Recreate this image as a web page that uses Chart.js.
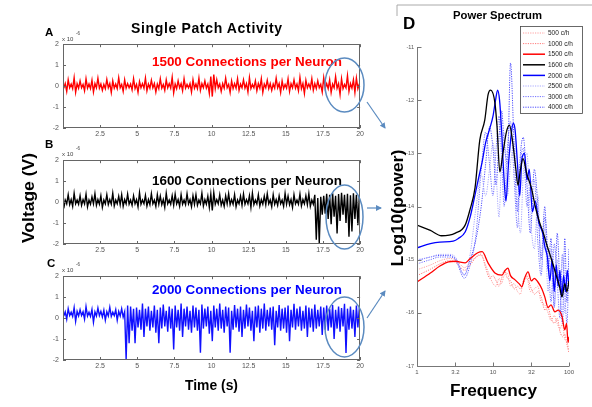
<!DOCTYPE html>
<html>
<head>
<meta charset="utf-8">
<script src="https://cdn.jsdelivr.net/npm/chart.js@4.4.0/dist/chart.umd.min.js"></script>
<style>
  html, body { margin: 0; padding: 0; background: #fff; }
  #fig { position: relative; width: 592px; height: 407px; overflow: hidden; font-family: "Liberation Sans", Arial, sans-serif; }
  #fig canvas { position: absolute; }
  #over { position: absolute; left: 0; top: 0; pointer-events: none; }
</style>
</head>
<body>
<div id="fig">
  <canvas id="cA" width="330" height="104" style="left:36px;top:36px"></canvas>
  <canvas id="cB" width="330" height="104" style="left:36px;top:152px"></canvas>
  <canvas id="cC" width="330" height="104" style="left:36px;top:268px"></canvas>
  <canvas id="cD" width="200" height="360" style="left:392px;top:20px"></canvas>
  <svg id="over" width="592" height="407" font-family="'Liberation Sans', Arial, sans-serif">
    <defs>
      <marker id="ah" markerWidth="6" markerHeight="6" refX="5" refY="3" orient="auto" markerUnits="userSpaceOnUse">
        <path d="M0,0 L6,3 L0,6 Z" fill="#5b8bc0"/>
      </marker>
    </defs>
    <path d="M397,16 L397,5 L592,5" fill="none" stroke="#aaa" stroke-width="1"/>
    <text x="131" y="33" font-size="14" font-weight="bold" font-family="'Liberation Sans', sans-serif" textLength="151" lengthAdjust="spacing">Single Patch Activity</text>
    <text x="45" y="36" font-size="11.5" font-weight="bold">A</text>
    <text x="45" y="148" font-size="11.5" font-weight="bold">B</text>
    <text x="47" y="267" font-size="11.5" font-weight="bold">C</text>
    <text x="62" y="41" font-size="6" fill="#444">x 10</text><text x="76" y="35" font-size="4.5" fill="#444">-6</text>
    <text x="62" y="156" font-size="6" fill="#444">x 10</text><text x="76" y="150" font-size="4.5" fill="#444">-6</text>
    <text x="62" y="272" font-size="6" fill="#444">x 10</text><text x="76" y="266" font-size="4.5" fill="#444">-6</text>
    <text x="152" y="66" font-size="13" font-weight="bold" fill="#ff0000" textLength="190" lengthAdjust="spacingAndGlyphs">1500 Connections per Neuron</text>
    <text x="152" y="185" font-size="13" font-weight="bold" fill="#000" textLength="190" lengthAdjust="spacingAndGlyphs">1600 Connections per Neuron</text>
    <text x="152" y="294" font-size="13" font-weight="bold" fill="#0000ff" textLength="190" lengthAdjust="spacingAndGlyphs">2000 Connections per Neuron</text>
    <text transform="translate(34,198) rotate(-90)" text-anchor="middle" font-size="16" font-weight="bold" textLength="90" lengthAdjust="spacingAndGlyphs">Voltage (V)</text>
    <text x="185" y="390" font-size="15" font-weight="bold" textLength="53" lengthAdjust="spacingAndGlyphs">Time (s)</text>
    <text transform="translate(403,208) rotate(-90)" text-anchor="middle" font-size="16" font-weight="bold" textLength="117" lengthAdjust="spacingAndGlyphs">Log10(power)</text>
    <text x="450" y="396" font-size="16.5" font-weight="bold" textLength="87" lengthAdjust="spacingAndGlyphs">Frequency</text>
    <text x="453" y="19" font-size="11.5" font-weight="bold" textLength="89" lengthAdjust="spacingAndGlyphs">Power Spectrum</text>
    <text x="403" y="29" font-size="17" font-weight="bold">D</text>
    <ellipse cx="344.5" cy="85" rx="19.5" ry="27" fill="none" stroke="#5b8bc0" stroke-width="1.5"/>
    <ellipse cx="344.5" cy="217" rx="18.5" ry="32" fill="none" stroke="#5b8bc0" stroke-width="1.5"/>
    <ellipse cx="344.5" cy="327" rx="19.5" ry="30" fill="none" stroke="#5b8bc0" stroke-width="1.5"/>
    <line x1="367" y1="102" x2="385" y2="128" stroke="#5b8bc0" stroke-width="1.2" marker-end="url(#ah)"/>
    <line x1="367" y1="208" x2="381" y2="208" stroke="#5b8bc0" stroke-width="1.2" marker-end="url(#ah)"/>
    <line x1="367" y1="318" x2="385" y2="291" stroke="#5b8bc0" stroke-width="1.2" marker-end="url(#ah)"/>
  </svg>
</div>
<script>
// time traces, read as min / max per 0.2 s bin (units of 1e-6 V)
const binW = 0.2;

const loA = [-0.10,-0.25,-0.08,-0.12,-0.30,-0.10,-0.08,-0.22,-0.10,-0.12,
  -0.28,-0.08,-0.10,-0.20,-0.12,-0.08,-0.30,-0.10,-0.12,-0.08,
  -0.25,-0.10,-0.08,-0.18,-0.12,-0.30,-0.08,-0.10,-0.22,-0.10,
  -0.08,-0.28,-0.12,-0.10,-0.20,-0.08,-0.10,-0.32,-0.12,-0.08,
  -0.22,-0.10,-0.08,-0.28,-0.10,-0.12,-0.20,-0.08,-0.10,-0.35,
  -0.50,-0.12,-0.08,-0.25,-0.10,-0.08,-0.30,-0.12,-0.10,-0.20,
  -0.08,-0.10,-0.28,-0.12,-0.08,-0.22,-0.10,-0.30,-0.08,-0.12,
  -0.20,-0.10,-0.08,-0.30,-0.12,-0.10,-0.25,-0.08,-0.10,-0.22,
  -0.12,-0.35,-0.08,-0.10,-0.20,-0.12,-0.08,-0.28,-0.10,-0.12,
  -0.30,-0.08,-0.10,-0.40,-0.12,-0.08,-0.25,-0.10,-0.30,-0.12];
const hiA = [0.12,0.30,0.10,0.40,0.12,0.25,0.08,0.35,0.10,0.28,
  0.12,0.38,0.10,0.08,0.32,0.12,0.25,0.10,0.40,0.08,
  0.30,0.12,0.10,0.35,0.08,0.22,0.12,0.38,0.10,0.28,
  0.12,0.10,0.35,0.08,0.30,0.12,0.42,0.10,0.25,0.12,
  0.35,0.08,0.12,0.30,0.10,0.38,0.12,0.25,0.10,0.45,
  0.55,0.30,0.10,0.12,0.38,0.08,0.25,0.12,0.35,0.10,
  0.30,0.12,0.40,0.08,0.25,0.12,0.35,0.10,0.28,0.12,
  0.10,0.38,0.12,0.25,0.08,0.35,0.12,0.30,0.10,0.42,
  0.12,0.28,0.10,0.35,0.12,0.25,0.08,0.40,0.12,0.30,
  0.10,0.45,0.12,0.35,0.08,0.50,0.12,0.30,0.38,0.12];

const loB = [-0.30,-0.08,-0.12,-0.20,-0.08,-0.10,-0.15,-0.08,-0.22,-0.10,
  -0.08,-0.15,-0.10,-0.25,-0.08,-0.12,-0.10,-0.18,-0.08,-0.12,
  -0.20,-0.08,-0.10,-0.15,-0.08,-0.22,-0.10,-0.08,-0.18,-0.12,
  -0.08,-0.20,-0.10,-0.12,-0.25,-0.08,-0.10,-0.15,-0.08,-0.20,
  -0.10,-0.12,-0.08,-0.22,-0.10,-0.15,-0.08,-0.18,-0.10,-0.25,
  -0.40,-0.10,-0.08,-0.15,-0.20,-0.08,-0.12,-0.10,-0.22,-0.08,
  -0.15,-0.10,-0.08,-0.25,-0.12,-0.08,-0.18,-0.10,-0.12,-0.08,
  -0.22,-0.10,-0.15,-0.08,-0.20,-0.10,-0.12,-0.25,-0.08,-0.10,
  -0.18,-0.08,-0.12,-0.20,-0.10,-1.80,-1.95,-0.60,-0.55,-0.80,
  -1.05,-0.70,-1.50,-0.90,-0.60,-1.00,-1.65,-1.40,-0.80,-1.10];
const hiB = [0.10,0.35,0.12,0.42,0.10,0.30,0.12,0.38,0.10,0.25,
  0.40,0.12,0.30,0.10,0.35,0.12,0.42,0.10,0.28,0.35,
  0.12,0.38,0.10,0.30,0.12,0.45,0.10,0.32,0.12,0.40,
  0.10,0.35,0.28,0.12,0.42,0.10,0.30,0.38,0.12,0.35,
  0.10,0.40,0.12,0.30,0.35,0.10,0.42,0.12,0.28,0.38,
  0.45,0.12,0.35,0.10,0.30,0.40,0.12,0.35,0.10,0.28,
  0.38,0.12,0.30,0.42,0.10,0.35,0.12,0.28,0.40,0.10,
  0.35,0.12,0.30,0.10,0.42,0.28,0.12,0.35,0.10,0.38,
  0.12,0.30,0.40,0.10,0.35,0.20,0.25,0.30,0.40,0.35,
  0.42,0.30,0.38,0.45,0.35,0.40,0.32,0.42,0.35,0.30];

const loC = [0.10,-0.05,0.12,0.08,-0.15,0.10,0.12,-0.05,0.10,0.08,
  -0.20,0.10,0.12,0.05,-0.10,0.10,0.08,0.12,-0.10,0.10,
  0.05,-2.00,-1.20,-0.60,-1.20,-0.45,-0.55,-0.90,-0.40,-0.60,
  -0.45,-0.70,-1.20,-0.50,-0.40,-0.65,-0.50,-1.50,-0.45,-0.60,
  -0.90,-0.40,-0.55,-0.70,-0.45,-0.60,-1.65,-0.50,-0.40,-0.75,
  -1.10,-0.45,-0.60,-0.50,-0.70,-0.40,-1.65,-0.55,-0.45,-0.65,
  -0.90,-0.50,-0.40,-0.60,-1.10,-0.45,-0.70,-0.50,-0.60,-0.40,
  -0.55,-1.30,-0.45,-0.60,-0.50,-0.70,-1.10,-0.45,-0.55,-0.40,
  -0.60,-0.50,-0.90,-0.45,-0.65,-0.50,-0.40,-0.80,-0.55,-0.60,
  -0.45,-1.00,-0.50,-0.65,-0.40,-1.67,-0.55,-0.50,-0.90,-0.45];
const hiC = [0.30,0.45,0.28,0.50,0.32,0.40,0.30,0.55,0.28,0.42,
  0.30,0.48,0.32,0.38,0.30,0.52,0.28,0.40,0.32,0.45,
  0.30,0.60,0.55,0.45,0.50,0.40,0.70,0.45,0.55,0.35,
  0.60,0.40,0.50,0.65,0.35,0.55,0.45,0.60,0.40,0.70,
  0.45,0.55,0.35,0.60,0.50,0.40,0.65,0.45,0.55,0.35,
  0.60,0.45,0.70,0.40,0.55,0.50,0.35,0.62,0.45,0.55,
  0.40,0.65,0.50,0.35,0.55,0.60,0.45,0.70,0.40,0.50,
  0.55,0.35,0.62,0.45,0.50,0.60,0.40,0.68,0.45,0.55,
  0.35,0.60,0.50,0.45,0.65,0.40,0.55,0.50,0.60,0.45,
  0.62,0.40,0.55,0.48,0.68,0.45,0.55,0.40,0.60,0.50];

const timeTicks = [2.5, 5, 7.5, 10, 12.5, 15, 17.5, 20];
const voltTicks = [-2, -1, 0, 1, 2];

// power spectra (log10 power vs frequency)
const fDot = [1,1.5,2,2.6,3.2,4.2,5,6,7,8,9,10,11,12,13,14,15.5,17,19,21,23,25,28,31,35,39,43,48,53,58,64,70,76,82,88,94,100];
const p500 = [-15.19,-15.1,-15.02,-14.98,-15.0,-15.15,-15.05,-14.95,-14.92,-15.1,-15.3,-15.45,-15.5,-15.35,-15.45,-15.3,-15.25,-15.5,-15.45,-15.6,-15.65,-15.4,-15.35,-15.6,-15.55,-15.5,-15.8,-15.85,-16.0,-16.15,-16.05,-16.2,-16.3,-16.2,-16.5,-16.55,-16.7];
const p1000 = [-15.3,-15.18,-15.08,-15.02,-15.05,-15.2,-15.1,-14.95,-14.9,-15.15,-15.35,-15.3,-15.4,-15.5,-15.35,-15.2,-15.35,-15.4,-15.55,-15.5,-15.55,-15.45,-15.3,-15.5,-15.65,-15.6,-15.7,-15.95,-15.9,-16.1,-16.2,-16.1,-16.35,-16.45,-16.4,-16.6,-16.75];
const p2500 = [-15.0,-14.95,-14.9,-14.9,-14.95,-15.3,-14.9,-14.0,-13.4,-13.8,-13.3,-12.8,-13.4,-14.2,-13.0,-12.6,-13.8,-13.2,-12.8,-13.9,-14.5,-13.4,-13.0,-14.2,-14.8,-13.8,-15.2,-14.4,-15.6,-14.8,-15.9,-15.0,-15.6,-14.9,-16.0,-15.2,-15.3];
const p3000 = [-15.08,-15.0,-14.95,-14.95,-15.0,-15.35,-15.1,-14.5,-13.3,-12.6,-13.2,-13.8,-12.9,-12.3,-13.1,-14.0,-12.9,-12.4,-13.5,-14.4,-13.2,-12.9,-14.0,-13.6,-13.5,-14.7,-15.3,-14.2,-14.9,-15.8,-14.7,-15.4,-16.1,-14.9,-15.6,-16.2,-15.0];
const p4000 = [-15.02,-14.95,-14.92,-14.92,-14.98,-15.28,-15.0,-14.6,-14.0,-13.2,-12.5,-12.9,-13.6,-12.7,-12.2,-12.8,-13.2,-11.3,-12.9,-14.1,-13.0,-12.7,-13.6,-14.5,-13.3,-14.0,-15.0,-14.0,-15.2,-14.6,-15.9,-14.5,-15.5,-16.2,-14.6,-15.8,-14.8];

const fRed = [1,1.5,2,2.6,3.2,4.3,5,6.3,7.2,8.6,10.6,13.1,14.5,15.7,17,19.5,22,24,26,28.9,32,35,39,44,48,53,58,65,72,81,88,93,97,100];
const p1500 = [-15.42,-15.25,-15.12,-15.04,-15.03,-15.06,-14.98,-14.87,-14.85,-15.06,-15.25,-15.29,-15.2,-15.16,-15.3,-15.38,-15.45,-15.51,-15.35,-15.23,-15.4,-15.35,-15.42,-15.55,-15.7,-15.9,-15.85,-15.98,-15.95,-16.07,-16.32,-16.2,-16.56,-16.45];

const fBlack = [1,1.5,2.1,3.2,4.3,5,5.8,6.7,7.8,8.6,9.3,10.6,11.3,12.3,13.5,15,16.5,18,20,21.3,23,24.8,28,32,36,41,46,51,56,62,68,75,81,88,94,100];
const p1600 = [-14.35,-14.45,-14.55,-14.5,-14.35,-14.05,-13.65,-12.75,-12.37,-11.9,-11.81,-12.05,-12.5,-13.35,-13.0,-12.6,-12.47,-12.75,-13.3,-13.6,-13.3,-13.1,-13.4,-13.65,-14.0,-14.3,-14.5,-14.72,-14.9,-15.1,-15.3,-15.5,-15.7,-15.45,-15.6,-15.4];

const fBlue = [1,1.5,2,3,3.5,4.3,5,5.8,6.5,7.2,8,9,10,10.8,11.5,12.2,13,14,14.8,16,17.5,18.5,19.5,21,22.5,24,26,28,30,33,36,40,45,48,52,56,60,64,68,72,76,80,85,90,95,100];
const p2000 = [-14.78,-14.7,-14.67,-14.65,-14.6,-14.48,-14.2,-13.78,-13.45,-13.16,-12.8,-12.55,-12.3,-12.0,-11.81,-12.0,-12.6,-13.5,-13.9,-13.2,-12.6,-12.43,-12.55,-13.2,-13.8,-13.1,-13.0,-13.5,-13.3,-14.1,-13.9,-14.3,-14.5,-14.75,-14.95,-15.4,-15.0,-15.6,-15.1,-15.5,-15.2,-15.7,-15.3,-15.6,-15.2,-15.5];

const freqTicks = [1, 3.2, 10, 32, 100];
const powTicks = [-17, -16, -15, -14, -13, -12, -11];

function envelope(lo, hi) {
    let pts = [];
    for (let i = 0; i < lo.length; i++) {
        let t = i * binW;
        pts.push({ x: t + binW * 0.25, y: lo[i] });
        pts.push({ x: t + binW * 0.75, y: hi[i] });
    }
    return pts;
}

function pairs(fs, ps) {
    return fs.map((f, i) => ({ x: f, y: ps[i] }));
}

function line(ctx, x1, y1, x2, y2) {
    ctx.beginPath();
    ctx.moveTo(x1, y1);
    ctx.lineTo(x2, y2);
    ctx.stroke();
}

const tickFont = { family: 'Liberation Sans', size: 7 };

// box with inward ticks, matlab style
const boxPlugin = {
    id: 'box',
    afterDraw(chart) {
        let ctx = chart.ctx, a = chart.chartArea, sx = chart.scales.x, sy = chart.scales.y;
        ctx.save();
        ctx.strokeStyle = '#666';
        ctx.lineWidth = 1;
        ctx.strokeRect(Math.round(a.left) + 0.5, Math.round(a.top) + 0.5, Math.round(a.right - a.left) - 1, Math.round(a.bottom - a.top) - 1);
        timeTicks.forEach(v => {
            let px = Math.round(sx.getPixelForValue(v)) + 0.5;
            line(ctx, px, a.bottom, px, a.bottom - 3);
            line(ctx, px, a.top, px, a.top + 3);
        });
        voltTicks.forEach(v => {
            let py = Math.round(sy.getPixelForValue(v)) + 0.5;
            line(ctx, a.left, py, a.left + 3, py);
            line(ctx, a.right, py, a.right - 3, py);
        });
        ctx.restore();
    }
};

function makePanel(id, pts, color) {
    let ctx = document.getElementById(id).getContext('2d');
    return new Chart(ctx, {
        type: 'line',
        data: {
            datasets: [{
                data: pts,
                borderColor: color,
                borderWidth: 1.4,
                pointRadius: 0,
                tension: 0
            }]
        },
        options: {
            responsive: false,
            animation: false,
            layout: { padding: { top: 7, right: 5, left: 0, bottom: 0 } },
            plugins: { legend: { display: false }, tooltip: { enabled: false } },
            scales: {
                x: {
                    type: 'linear',
                    min: 0,
                    max: 20,
                    afterBuildTicks: s => { s.ticks = timeTicks.map(v => ({ value: v })); },
                    afterFit: s => { s.height = 12; },
                    grid: { display: false, drawTicks: false },
                    border: { display: false },
                    ticks: { font: tickFont, color: '#555', padding: 2, maxRotation: 0, autoSkip: false }
                },
                y: {
                    min: -2,
                    max: 2,
                    afterBuildTicks: s => { s.ticks = voltTicks.map(v => ({ value: v })); },
                    afterFit: s => { s.width = 27; },
                    grid: { display: false, drawTicks: false },
                    border: { display: false },
                    ticks: { font: tickFont, color: '#555', padding: 4 }
                }
            }
        },
        plugins: [boxPlugin]
    });
}

makePanel('cA', envelope(loA, hiA), '#ff0000');
makePanel('cB', envelope(loB, hiB), '#000000');
makePanel('cC', envelope(loC, hiC), '#1010ff');

const dotted = [1.2, 1.2];

const specSets = [
    { label: '500 c/h', data: pairs(fDot, p500), borderColor: '#ff9f9f', borderDash: dotted, borderWidth: 1, order: 2 },
    { label: '1000 c/h', data: pairs(fDot, p1000), borderColor: '#ff7a7a', borderDash: dotted, borderWidth: 1, order: 2 },
    { label: '1500 c/h', data: pairs(fRed, p1500), borderColor: '#ff0000', borderWidth: 1.3, order: 0, cubicInterpolationMode: 'monotone' },
    { label: '1600 c/h', data: pairs(fBlack, p1600), borderColor: '#000000', borderWidth: 1.3, order: 0, cubicInterpolationMode: 'monotone' },
    { label: '2000 c/h', data: pairs(fBlue, p2000), borderColor: '#0000ff', borderWidth: 1.3, order: 0, cubicInterpolationMode: 'monotone' },
    { label: '2500 c/h', data: pairs(fDot, p2500), borderColor: '#a8a8ff', borderDash: dotted, borderWidth: 1, order: 1, cubicInterpolationMode: 'monotone' },
    { label: '3000 c/h', data: pairs(fDot, p3000), borderColor: '#7070ff', borderDash: dotted, borderWidth: 1, order: 1, cubicInterpolationMode: 'monotone' },
    { label: '4000 c/h', data: pairs(fDot, p4000), borderColor: '#4a4aff', borderDash: dotted, borderWidth: 1, order: 1, cubicInterpolationMode: 'monotone' }
];

const specPlugin = {
    id: 'spec',
    afterDraw(chart) {
        let ctx = chart.ctx, a = chart.chartArea, sx = chart.scales.x, sy = chart.scales.y;
        ctx.save();
        ctx.strokeStyle = '#777';
        ctx.lineWidth = 1;
        let L = Math.round(a.left) + 0.5, B = Math.round(a.bottom) + 0.5;
        line(ctx, L, a.top, L, B);
        line(ctx, L, B, a.right, B);
        freqTicks.forEach(v => {
            let px = Math.round(sx.getPixelForValue(v)) + 0.5;
            line(ctx, px, B, px, B - 4);
        });
        powTicks.forEach(v => {
            let py = Math.round(sy.getPixelForValue(v)) + 0.5;
            line(ctx, L, py, L + 4, py);
        });
        // legend box
        let bx = 128.5, by = 6.5, bw = 62, bh = 87;
        ctx.fillStyle = '#fff';
        ctx.fillRect(bx, by, bw, bh);
        ctx.strokeStyle = '#444';
        ctx.lineWidth = 0.8;
        ctx.strokeRect(bx, by, bw, bh);
        ctx.font = '6.5px "Liberation Sans"';
        ctx.textBaseline = 'middle';
        specSets.forEach((d, i) => {
            let yy = 13 + i * 10.6;
            ctx.strokeStyle = d.borderColor;
            ctx.lineWidth = d.borderDash ? 1 : 1.5;
            ctx.setLineDash(d.borderDash || []);
            line(ctx, 131, yy, 153, yy);
            ctx.setLineDash([]);
            ctx.fillStyle = '#222';
            ctx.fillText(d.label, 156, yy + 0.5);
        });
        ctx.restore();
    }
};

let ctxD = document.getElementById('cD').getContext('2d');
new Chart(ctxD, {
    type: 'line',
    data: {
        datasets: specSets.map(d => Object.assign({ pointRadius: 0, tension: 0.3, fill: false }, d))
    },
    options: {
        responsive: false,
        animation: false,
        layout: { padding: { top: 27, right: 23, left: 0, bottom: 0 } },
        plugins: { legend: { display: false }, tooltip: { enabled: false } },
        scales: {
            x: {
                type: 'logarithmic',
                min: 1,
                max: 100,
                afterBuildTicks: s => { s.ticks = freqTicks.map(v => ({ value: v })); },
                afterFit: s => { s.height = 14; },
                grid: { display: false, drawTicks: false },
                border: { display: false },
                ticks: { font: { family: 'Liberation Sans', size: 6 }, color: '#555', padding: 3, maxRotation: 0, autoSkip: false, callback: v => String(v) }
            },
            y: {
                min: -17,
                max: -11,
                afterBuildTicks: s => { s.ticks = powTicks.map(v => ({ value: v })); },
                afterFit: s => { s.width = 25; },
                grid: { display: false, drawTicks: false },
                border: { display: false },
                ticks: { font: { family: 'Liberation Sans', size: 5.5 }, color: '#555', padding: 3 }
            }
        }
    },
    plugins: [specPlugin]
});
</script>
</body>
</html>
